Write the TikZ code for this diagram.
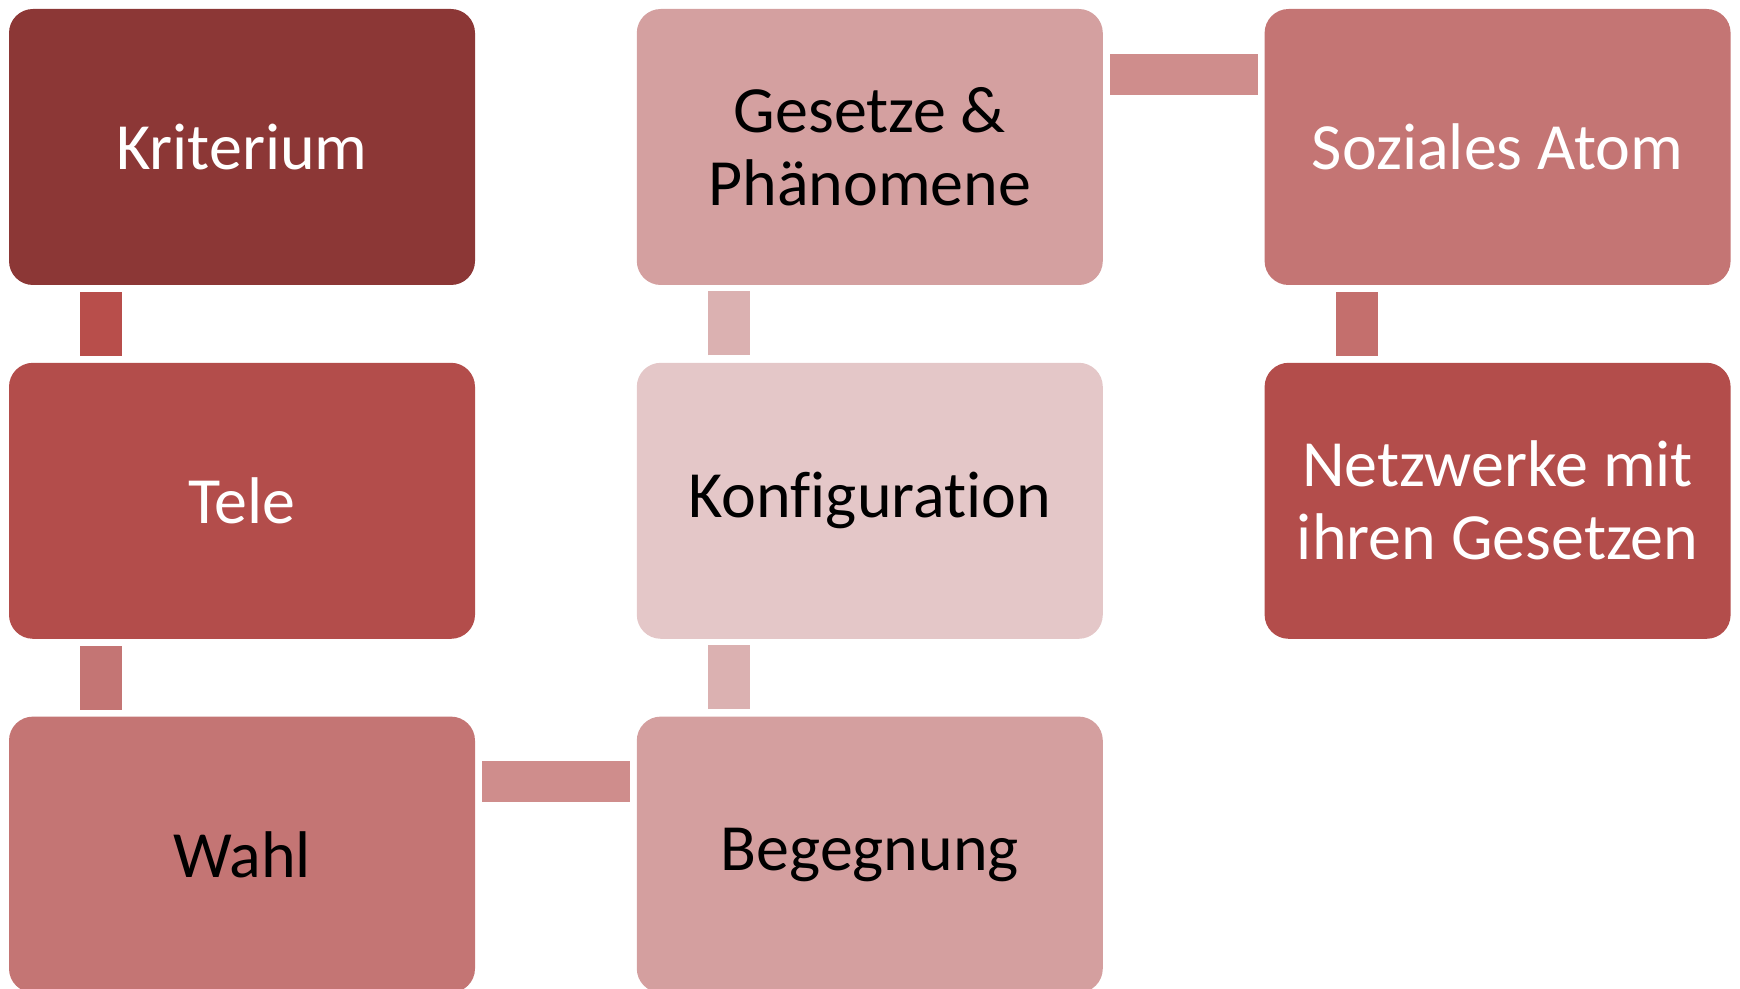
\documentclass[tikz,border=0pt]{standalone}
\usepackage{fontspec}
\setmainfont{Carlito}[Ligatures=NoCommon]
\usetikzlibrary{positioning}

\definecolor{kricol}{HTML}{8C3736}
\definecolor{telecol}{HTML}{B34D4B}
\definecolor{wahlcol}{HTML}{C47574}
\definecolor{begcol}{HTML}{D49F9F}
\definecolor{konfcol}{HTML}{E4C7C8}
\definecolor{gescol}{HTML}{D4A0A0}
\definecolor{linkA}{HTML}{B84E4B}
\definecolor{linkB}{HTML}{C47574}
\definecolor{linkC}{HTML}{CF8D8C}
\definecolor{linkD}{HTML}{DBB1B1}
\definecolor{linkE}{HTML}{C46F6D}

\tikzset{
  box/.style={rectangle,rounded corners=12pt,minimum width=233pt,minimum height=138pt,inner sep=0pt,align=center,font=\fontsize{33}{36.5}\selectfont},
  vlink/.style={line width=21pt,shorten <=3.5pt,shorten >=3pt},
  hlink/.style={line width=20.5pt,shorten <=3.5pt,shorten >=3pt},
}

\begin{document}
\begin{tikzpicture}[x=0.5pt,y=-0.5pt]
  \useasboundingbox (0,0) rectangle (1740,989);
  \node[box,fill=kricol,text=white] at (242,147) (kri) {Kriterium};
  \node[box,fill=telecol,text=white,anchor=north,yshift=-38.5pt] at (kri.south) (tele) {Tele};
  \node[box,fill=wahlcol,anchor=north,yshift=-38.5pt] at (tele.south) (wahl) {Wahl};
  \node[box,fill=begcol,anchor=west,xshift=80.5pt] at (wahl.east) (beg) {Begegnung};
  \node[box,fill=konfcol,anchor=south,yshift=38.5pt] at (beg.north) (konf) {Konfiguration};
  \node[box,fill=gescol,anchor=south,yshift=38.5pt] at (konf.north) (ges) {Gesetze \&\\Phänomene};
  \node[box,fill=wahlcol,text=white,anchor=west,xshift=80.5pt] at (ges.east) (soz) {Soziales Atom};
  \node[box,fill=telecol,text=white,anchor=north,yshift=-38.5pt] at (soz.south) (netz) {Netzwerke mit\\ihren Gesetzen};
  \draw[vlink,draw=linkA] ([xshift=-70.5pt]kri.south) -- ([xshift=-70.5pt]tele.north);
  \draw[vlink,draw=linkB] ([xshift=-70.5pt]tele.south) -- ([xshift=-70.5pt]wahl.north);
  \draw[hlink,draw=linkC] ([yshift=-32.75pt]wahl.north east) -- ([yshift=-32.75pt]beg.north west);
  \draw[vlink,draw=linkD] ([xshift=-70.5pt]beg.north) -- ([xshift=-70.5pt]konf.south);
  \draw[vlink,draw=linkD] ([xshift=-70.5pt]konf.north) -- ([xshift=-70.5pt]ges.south);
  \draw[hlink,draw=linkC] ([yshift=-32.75pt]ges.north east) -- ([yshift=-32.75pt]soz.north west);
  \draw[vlink,draw=linkE] ([xshift=-70.5pt]soz.south) -- ([xshift=-70.5pt]netz.north);
\end{tikzpicture}
\end{document}
